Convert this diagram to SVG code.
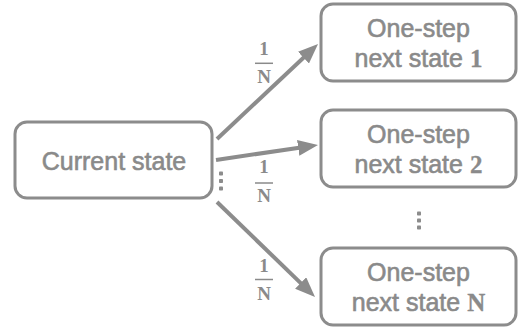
<svg xmlns="http://www.w3.org/2000/svg" width="522" height="331" viewBox="0 0 522 331">
<defs>
<style>
.box{fill:#fff;stroke:#8c8c8c;stroke-width:3}
.lbl{font-family:"Liberation Sans",Arial,sans-serif;font-size:25px;fill:#8a8a8a;stroke:#8a8a8a;stroke-width:0.6;text-anchor:middle}
.num{font-family:"Liberation Serif","Times New Roman",serif;font-weight:bold;stroke-width:0.3}
.frac{font-family:"Liberation Serif","Times New Roman",serif;font-size:19px;font-weight:bold;fill:#8a8a8a;text-anchor:middle}
.bar{stroke:#8a8a8a;stroke-width:1.5}
.edge{stroke:#8c8c8c;stroke-width:4;fill:none;marker-end:url(#ah)}
.dot{fill:#8c8c8c}
</style>
<marker id="ah" viewBox="0 0 20 16" refX="8" refY="8" markerWidth="20" markerHeight="16" markerUnits="userSpaceOnUse" orient="auto">
<path d="M0,0 L20,8 L0,16 z" fill="#8c8c8c"/>
</marker>
</defs>
<rect width="522" height="331" fill="#fff"/>
<g id="connectors">
<line class="edge" x1="217" y1="139" x2="309.3" y2="52.2"/>
<line class="edge" x1="216" y1="160" x2="306.1" y2="146.7"/>
<line class="edge" x1="217" y1="202" x2="306.4" y2="288.6"/>
<g id="label1">
<text class="frac" x="264" y="55">1</text>
<line class="bar" x1="255" y1="63.3" x2="273" y2="63.3"/>
<text class="frac" x="264" y="83">N</text>
</g>
<g id="label2">
<text class="frac" x="264" y="173">1</text>
<line class="bar" x1="255" y1="183" x2="273" y2="183"/>
<text class="frac" x="264" y="201.5">N</text>
</g>
<g id="label3">
<text class="frac" x="264" y="272">1</text>
<line class="bar" x1="255" y1="279.5" x2="273" y2="279.5"/>
<text class="frac" x="264" y="300">N</text>
</g>
<g id="dots-left">
<rect class="dot" x="219" y="171.5" width="4" height="4" rx="0.8"/>
<rect class="dot" x="219" y="179" width="4" height="4" rx="0.8"/>
<rect class="dot" x="219" y="186.5" width="4" height="4" rx="0.8"/>
</g>
</g>
<g id="current">
<rect class="box" x="15" y="122" width="197" height="76" rx="12"/>
<text class="lbl" x="114" y="170">Current state</text>
</g>
<g id="next1">
<rect class="box" x="321" y="4" width="195" height="77" rx="12"/>
<text class="lbl" x="418.5" y="37">One-step</text>
<text class="lbl" x="418.5" y="66.5">next state <tspan class="num">1</tspan></text>
</g>
<g id="next2">
<rect class="box" x="321" y="110" width="195" height="77" rx="12"/>
<text class="lbl" x="418.5" y="143">One-step</text>
<text class="lbl" x="418.5" y="172.5">next state <tspan class="num">2</tspan></text>
</g>
<g id="dots-right">
<rect class="dot" x="417" y="211.5" width="4" height="4" rx="0.8"/>
<rect class="dot" x="417" y="218.5" width="4" height="4" rx="0.8"/>
<rect class="dot" x="417" y="225.5" width="4" height="4" rx="0.8"/>
</g>
<g id="nextN">
<rect class="box" x="321" y="248" width="195" height="77" rx="12"/>
<text class="lbl" x="418.5" y="281">One-step</text>
<text class="lbl" x="418.5" y="310.5">next state <tspan class="num">N</tspan></text>
</g>
</svg>
